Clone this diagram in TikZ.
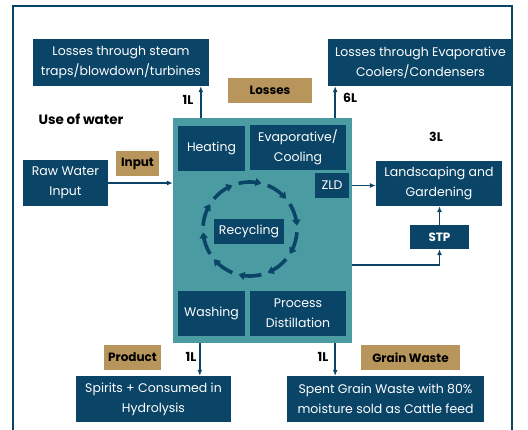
\documentclass[tikz,border=0pt]{standalone}
\usepackage{fontspec}
\setmainfont{Poppins}
\usepackage{tikz}
\usetikzlibrary{positioning,calc,arrows.meta}
\definecolor{navy}{HTML}{0A4466}
\definecolor{teal}{HTML}{4A9BA2}
\definecolor{tan}{HTML}{B8955A}
\tikzset{
  block/.style={
    fill = navy,
    text = white,
    align = center,
    inner sep = 0pt,
    font = \fontsize{12.5}{20}\selectfont
  },
  tag/.style={
    fill = tan,
    text = black,
    inner sep = 0pt,
    font = \fontsize{12}{14}\selectfont\bfseries
  },
  amount/.style={
    inner sep = 1pt,
    font = \fontsize{12.5}{14}\selectfont\bfseries
  },
  flow/.style={
    draw = navy,
    line width = 1.6pt,
    -{Latex[length=6pt,width=5pt]}
  },
  cycle/.style={
    draw = navy,
    line width = 3.6pt,
    -{Triangle[length=6pt,width=8pt]}
  }
}
\begin{document}
\begin{tikzpicture}[x=1pt,y=-1pt]
    \useasboundingbox (0,0) rectangle (528,429);
    \draw[navy, line width=1.5pt] (13,440) -- (13,6) -- (512,6) -- (512,440);

    % losses
    \node[block, minimum width=176, minimum height=47] (steam) at (121,62.5) {Losses through steam\\traps/blowdown/turbines};
    \node[block, minimum width=185, minimum height=47] (evap) at (420.5,62.5) {Losses through Evaporative\\Coolers/Condensers};
    \node[tag, minimum width=84, minimum height=25] (losses) at (270,90.5) {Losses};
    \node[amount] (steamL) at (188,100) {1L};
    \node[amount] (evapL) at (350,98) {6L};
    \node[amount, font=\fontsize{13.5}{15}\selectfont\bfseries] (title) at (81,119) {Use of water};

    % main block
    \node[fill=teal, minimum width=179, minimum height=225, inner sep=0pt] (main) at (262.5,230.5) {};
    \node[block, minimum width=67, minimum height=45] (heating) at (211.5,148.5) {Heating};
    \node[block, minimum width=96, minimum height=45] (evapcool) at (298,147.5) {Evaporative/\\Cooling};
    \node[block, minimum width=34, minimum height=25] (zld) at (332,185.5) {ZLD};
    \node[block, minimum width=70, minimum height=25] (recycling) at (249,231.5) {Recycling};
    \node[block, minimum width=67, minimum height=45] (washing) at (211.5,313.5) {Washing};
    \node[block, minimum width=96, minimum height=45] (distillation) at (298,313.5) {Process\\Distillation};

    \foreach \a in {0,36,...,324}
        \draw[cycle] plot[domain=\a+4:\a+32, smooth, samples=8] ({250+47*cos(\x)},{229+47*sin(\x)});

    % input side
    \node[block, minimum width=85, minimum height=46] (raw) at (65.5,183) {Raw Water\\Input};
    \node[tag, minimum width=43, minimum height=25] (input) at (137.5,163.5) {Input};

    % reuse side
    \node[block, minimum width=126, minimum height=45] (garden) at (439,183.5) {Landscaping and\\Gardening};
    \node[amount] (gardenL) at (436,137) {3L};
    \node[block, minimum width=59, minimum height=24, font=\fontsize{12}{14}\selectfont\bfseries] (stp) at (439.5,237) {STP};

    % outputs
    \node[tag, minimum width=57, minimum height=25] (product) at (132.5,357.5) {Product};
    \node[amount] (spiritsL) at (191,357) {1L};
    \node[amount] (grainL) at (323,357) {1L};
    \node[tag, minimum width=99, minimum height=25] (grain) at (410.5,357.5) {Grain Waste};
    \node[block, minimum width=155, minimum height=46] (spirits) at (153.5,399) {Spirits + Consumed in\\Hydrolysis};
    \node[block, minimum width=197, minimum height=46] (spent) at (385.5,399) {Spent Grain Waste with 80\%\\moisture sold as Cattle feed};

    % connectors
    \draw[flow] ([xshift=28pt]main.north west) -- ([xshift=28pt]main.north west |- steam.south);
    \draw[flow] ([xshift=-17pt]main.north east) -- ([xshift=-17pt]main.north east |- evap.south);
    \draw[flow] (raw.east) -- (raw.east -| main.west);
    \draw[flow] (zld.east -| main.east) -- (zld.east -| garden.west);
    \draw[flow] (stp.north) -- (stp.north |- garden.south);
    \draw[flow] ([yshift=-34.5pt]main.east) -| (stp.south);
    \draw[flow] ([xshift=27pt]main.south west) -- ([xshift=27pt]main.south west |- spirits.north);
    \draw[flow] ([xshift=-17pt]main.south east) -- ([xshift=-17pt]main.south east |- spent.north);
\end{tikzpicture}
\end{document}
